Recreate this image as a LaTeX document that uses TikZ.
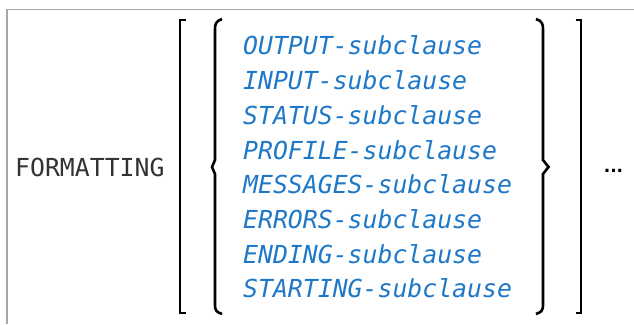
\documentclass[tikz,border=0pt]{standalone}
\usepackage{fontspec}
\setmonofont{DejaVu Sans Mono}
\newfontfamily\dotsfont{DejaVu Sans}
\definecolor{clauseblue}{HTML}{1E78C8}
\definecolor{framegray}{HTML}{A6A6A6}
\tikzset{
  keyword/.style={font=\ttfamily\fontsize{24.8}{28}\selectfont, text=black!80, inner sep=0pt, anchor=base west},
  clause/.style={font=\ttfamily\itshape\fontsize{24.8}{28}\selectfont, text=clauseblue, inner sep=0pt, anchor=base west},
  fence/.style={line width=2.6pt, line cap=butt, line join=miter}
}
\begin{document}
\begin{tikzpicture}[x=1pt,y=1pt]
            \useasboundingbox (0,0) rectangle (634,324);
            % Rahmen
            \draw[framegray, line width=1.5pt] (7,0) -- (7,314.5) -- (634,314.5);

            % Schluesselwort
            \node[keyword] (fmt) at (15,147) {FORMATTING};

            % Teilklauseln
            \foreach \name [count=\i from 0] in {OUTPUT,INPUT,STATUS,PROFILE,MESSAGES,ERRORS,ENDING,STARTING}
              \node[clause] (sub\i) at (243,{269-34.7*\i}) {\name-subclause};

            % eckige Klammern
            \draw[fence] (185.5,304) -- (180,304) -- (180,11) -- (185.5,11);
            \draw[fence] (575.5,304) -- (581,304) -- (581,11) -- (575.5,11);

            % geschweifte Klammern
            \draw[fence] (222,305) .. controls (216,303) and (215,300) .. (215,295)
              -- (215,164) -- (212,157) -- (215,150) -- (215,19)
              .. controls (215,14) and (216,12) .. (222,10);
            \draw[fence] (536,305) .. controls (542,303) and (543,300) .. (543,295)
              -- (543,164) -- (548.5,157) -- (543,150) -- (543,19)
              .. controls (543,14) and (542,12) .. (536,10);

            % Wiederholung
            \node[font=\dotsfont\bfseries\fontsize{17}{20}\selectfont, inner sep=0pt] (rep) at (613.5,153) {...};
\end{tikzpicture}
\end{document}
